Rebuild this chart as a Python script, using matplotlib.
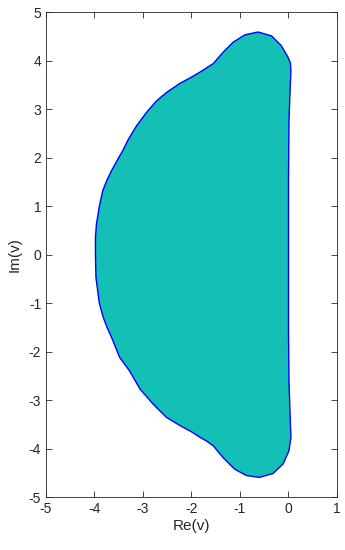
import matplotlib
matplotlib.use("Agg")
import matplotlib.pyplot as plt

plt.rcParams["font.family"] = ["Liberation Sans", "DejaVu Sans"]
plt.rcParams["axes.unicode_minus"] = False

# boundary of the region, going around counter-clockwise
re_v = [0.00, 0.00, 0.01, 0.03, 0.04, 0.05, 0.04, -0.01, -0.15, -0.35, -0.63,
        -0.90, -1.14, -1.35, -1.55, -1.69, -1.83, -2.00, -2.24, -2.52, -2.72,
        -2.93, -3.13, -3.30, -3.42, -3.54, -3.65, -3.75, -3.83, -3.90, -3.96,
        -3.98, -3.98,
        -3.97, -3.90, -3.82, -3.74, -3.65, -3.48, -3.28, -3.06, -2.79, -2.52,
        -2.24, -2.00, -1.83, -1.69, -1.55, -1.35, -1.11, -0.87, -0.60, -0.32,
        -0.11, 0.01, 0.05, 0.03, 0.01, 0.00, 0.00]
im_v = [0.00, 1.52, 2.76, 3.31, 3.55, 3.79, 3.95, 4.07, 4.31, 4.51, 4.59,
        4.53, 4.38, 4.17, 3.94, 3.85, 3.76, 3.66, 3.53, 3.34, 3.17,
        2.93, 2.66, 2.38, 2.14, 1.93, 1.73, 1.52, 1.32, 1.00, 0.63,
        0.36, 0.00,
        -0.47, -1.00, -1.29, -1.50, -1.70, -2.12, -2.39, -2.77, -3.08, -3.35,
        -3.52, -3.65, -3.76, -3.84, -3.94, -4.18, -4.42, -4.55, -4.59, -4.51,
        -4.31, -4.04, -3.76, -3.21, -2.60, -1.57, 0.00]

fig = plt.figure(figsize=(3.45, 5.5), dpi=100)
ax = fig.add_axes([0.1333, 0.0958, 0.8435, 0.8822])

ax.fill(re_v, im_v, facecolor="#14bfb6", edgecolor="#0000ff", linewidth=1.0,
        joinstyle="round")

ax.set_xlim(-5, 1)
ax.set_ylim(-5, 5)
ax.set_xticks(range(-5, 2))
ax.set_yticks(range(-5, 6))
ax.tick_params(direction="in", top=True, right=True, labelsize=10,
               length=4, width=0.6, colors="#262626")
for s in ax.spines.values():
    s.set_linewidth(0.6)
    s.set_color("#262626")
ax.set_xlabel("Re(v)", fontsize=11, color="#262626", labelpad=2)
ax.set_ylabel("Im(v)", fontsize=11, color="#262626", labelpad=5)

fig.savefig("out.png", dpi=100)
